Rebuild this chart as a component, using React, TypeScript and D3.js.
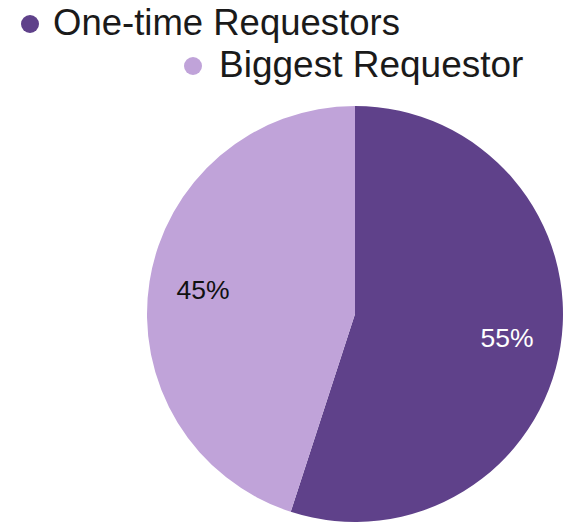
import React from "react";
import * as d3 from "d3";

const categories = ["One-time Requestors", "Biggest Requestor"];
const values = [55, 45];
const labels = ["55%", "45%"];
const colors = ["#5f418a", "#c0a3d9"];
const labelColors = ["#ffffff", "#111111"];

const W = 564;
const H = 523;
const cx = 355;
const cy = 314;
const R = 208;

export default function App() {
  const pie = d3.pie<number>().sort(null).value((d) => d);
  const arcs = pie(values);
  const arc = d3.arc<d3.PieArcDatum<number>>().innerRadius(0).outerRadius(R);
  const labelArc = d3
    .arc<d3.PieArcDatum<number>>()
    .innerRadius(R * 0.74)
    .outerRadius(R * 0.74);

  const legend = [
    { dotX: 30, y: 35, textX: 53, size: 36.5 },
    { dotX: 193, y: 77, textX: 219, size: 37 },
  ];

  return (
    <svg
      width={W}
      height={H}
      style={{ position: "absolute", left: 0, top: 0, display: "block" }}
      fontFamily="'Liberation Sans', Arial, sans-serif"
    >
      <rect width={W} height={H} fill="#ffffff" />
      <g transform={`translate(${cx},${cy})`}>
        {arcs.map((a, i) => (
          <path key={i} d={arc(a) || ""} fill={colors[i]} />
        ))}
        {arcs.map((a, i) => {
          const [x, y] = labelArc.centroid(a);
          return (
            <text
              key={i}
              x={x}
              y={y}
              textAnchor="middle"
              dominantBaseline="central"
              fontSize={26.5}
              fill={labelColors[i]}
            >
              {labels[i]}
            </text>
          );
        })}
      </g>
      {categories.map((c, i) => (
        <g key={c}>
          <circle cx={legend[i].dotX} cy={legend[i].y - 11} r={9} fill={colors[i]} />
          <text x={legend[i].textX} y={legend[i].y} fontSize={legend[i].size} fill="#1a1a1a">
            {c}
          </text>
        </g>
      ))}
    </svg>
  );
}
